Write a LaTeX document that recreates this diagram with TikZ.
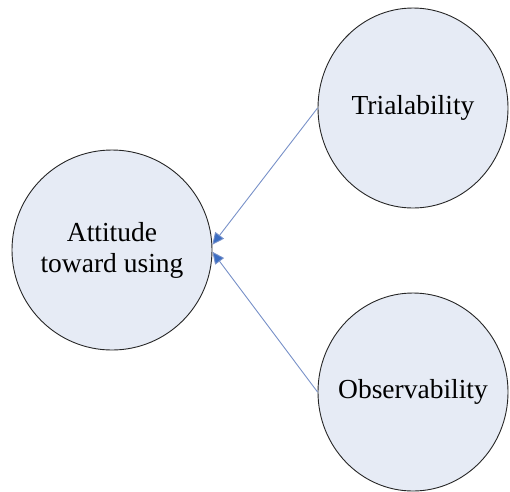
\documentclass[tikz,border=0pt]{standalone}
\usepackage{fontspec}
\setmainfont{Liberation Serif}
\usetikzlibrary{shapes.geometric,arrows.meta}
\definecolor{bubble}{RGB}{230,235,245}
\definecolor{linkline}{RGB}{120,145,200}
\definecolor{linkhead}{RGB}{60,110,195}
\tikzset{
  bubblenode/.style={ellipse, draw=black!85, line width=0.9pt, fill=bubble, inner sep=-30pt, align=center, font=\fontsize{27.5}{31}\selectfont},
  link/.style={draw=linkline, line width=0.9pt, -{Triangle[length=12pt,width=11pt,fill=linkhead]}}
}
\begin{document}
\begin{tikzpicture}[x=1pt,y=-1pt]
\useasboundingbox (0,0) rectangle (510,491);
\node[bubblenode, minimum width=200pt, minimum height=200pt] (att) at (112,250) {Attitude\\toward using};
\node[bubblenode, minimum width=190pt, minimum height=200pt] (tri) at (413,108) {Trialability};
\node[bubblenode, minimum width=190pt, minimum height=198pt] (obs) at (413,392) {Observability};
\draw[link] (tri.west) -- (att.3);
\draw[link] (obs.west) -- (att.-1);
\end{tikzpicture}
\end{document}
